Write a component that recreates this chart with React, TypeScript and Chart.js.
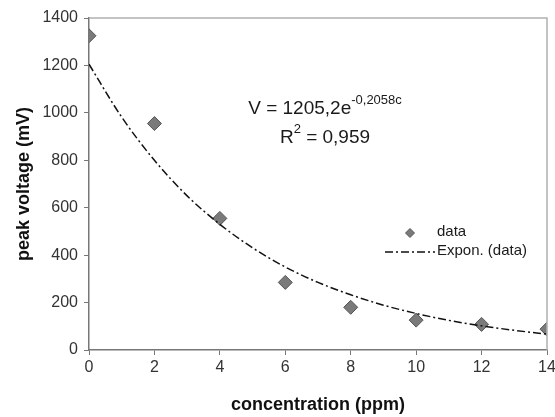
import React, { useEffect, useRef } from "react";
import { Chart, registerables } from "chart.js";

Chart.register(...registerables);

const concentration = [0, 2, 4, 6, 8, 10, 12, 14];
const peakVoltage = [1325, 955, 555, 285, 180, 126, 108, 88];

const trendX = [0, 1, 2, 3, 4, 5, 6, 7, 8, 9, 10, 11, 12, 13, 14];
const trendY = [1205, 982, 800, 650, 530, 431, 350, 285, 233, 189, 154, 125, 102, 83, 67];

const xTicks = [0, 2, 4, 6, 8, 10, 12, 14];
const yTicks = [0, 200, 400, 600, 800, 1000, 1200, 1400];

const equationMain = "V = 1205,2e";
const equationExp = "-0,2058c";
const r2Label = "R";
const r2Exp = "2";
const r2Value = " = 0,959";
const legendData = "data";
const legendFit = "Expon. (data)";

const FONT = "'Liberation Sans', Arial, sans-serif";
const DASH = [8, 3, 2, 3];

const overlayPlugin = {
  id: "overlay",
  afterDraw(chart: any) {
    const ctx = chart.ctx as CanvasRenderingContext2D;
    const { chartArea } = chart;
    ctx.save();
    // top and right frame
    ctx.strokeStyle = "#b0b0b0";
    ctx.lineWidth = 1.5;
    ctx.beginPath();
    ctx.moveTo(chartArea.left, chartArea.top);
    ctx.lineTo(chartArea.right, chartArea.top);
    ctx.lineTo(chartArea.right, chartArea.bottom);
    ctx.stroke();

    // equation
    ctx.fillStyle = "#1a1a1a";
    ctx.textBaseline = "alphabetic";
    ctx.textAlign = "left";
    const bigFont = `19px ${FONT}`;
    const supFont = `13px ${FONT}`;
    ctx.font = bigFont;
    const w1 = ctx.measureText(equationMain).width;
    ctx.font = supFont;
    const w2 = ctx.measureText(equationExp).width;
    const cx = 325;
    let x0 = cx - (w1 + w2) / 2;
    ctx.font = bigFont;
    ctx.fillText(equationMain, x0, 114);
    ctx.font = supFont;
    ctx.fillText(equationExp, x0 + w1, 104);

    ctx.font = bigFont;
    const r1 = ctx.measureText(r2Label).width;
    const r3 = ctx.measureText(r2Value).width;
    ctx.font = supFont;
    const r2 = ctx.measureText(r2Exp).width;
    x0 = cx - (r1 + r2 + r3) / 2;
    ctx.font = bigFont;
    ctx.fillText(r2Label, x0, 143);
    ctx.font = supFont;
    ctx.fillText(r2Exp, x0 + r1, 133);
    ctx.font = bigFont;
    ctx.fillText(r2Value, x0 + r1 + r2, 143);

    // legend
    ctx.fillStyle = "#7a7a7a";
    ctx.strokeStyle = "#555";
    ctx.lineWidth = 1;
    const dx = 410, dy = 233, dr = 4.5;
    ctx.beginPath();
    ctx.moveTo(dx, dy - dr);
    ctx.lineTo(dx + dr, dy);
    ctx.lineTo(dx, dy + dr);
    ctx.lineTo(dx - dr, dy);
    ctx.closePath();
    ctx.fill();
    ctx.stroke();

    ctx.strokeStyle = "#111";
    ctx.lineWidth = 1.5;
    ctx.setLineDash(DASH);
    ctx.beginPath();
    ctx.moveTo(385, 252);
    ctx.lineTo(435, 252);
    ctx.stroke();
    ctx.setLineDash([]);

    ctx.fillStyle = "#1a1a1a";
    ctx.font = `15px ${FONT}`;
    ctx.textBaseline = "middle";
    ctx.fillText(legendData, 437, 232);
    ctx.fillText(legendFit, 437, 251);
    ctx.restore();
  },
};

export default function App() {
  const ref = useRef<HTMLCanvasElement>(null);
  useEffect(() => {
    if (!ref.current) return;
    const chart = new Chart(ref.current, {
      type: "scatter",
      data: {
        datasets: [
          {
            label: legendFit,
            data: trendX.map((x, i) => ({ x, y: trendY[i] })),
            showLine: true,
            borderColor: "#111",
            borderWidth: 1.5,
            borderDash: DASH,
            pointRadius: 0,
            cubicInterpolationMode: "monotone",
            fill: false,
          } as any,
          {
            label: legendData,
            data: concentration.map((x, i) => ({ x, y: peakVoltage[i] })),
            pointStyle: "rectRot",
            pointRadius: 7,
            backgroundColor: "#7a7a7a",
            borderColor: "#555",
            borderWidth: 1,
            showLine: false,
          },
        ],
      },
      options: {
        responsive: false,
        animation: false,
        layout: { padding: { top: 18, right: 7, left: 0, bottom: 0 } },
        plugins: { legend: { display: false }, tooltip: { enabled: false } },
        scales: {
          x: {
            type: "linear",
            min: 0,
            max: 14,
            afterBuildTicks: (s: any) => {
              s.ticks = xTicks.map((v) => ({ value: v }));
            },
            afterFit: (s: any) => {
              s.height = 67;
              s.paddingLeft = 0;
              s.paddingRight = 0;
            },
            ticks: {
              color: "#333",
              font: { size: 16, family: FONT },
              padding: 3,
              maxRotation: 0,
              callback: (v: any) => String(v),
            },
            grid: { drawOnChartArea: false, drawTicks: true, tickLength: 5, color: "#777" },
            border: { color: "#777", width: 1.5 },
            title: {
              display: true,
              text: "concentration (ppm)",
              color: "#111",
              font: { size: 18, weight: "bold", family: FONT },
              padding: { top: 0, bottom: 1 },
            },
          },
          y: {
            type: "linear",
            min: 0,
            max: 1400,
            afterBuildTicks: (s: any) => {
              s.ticks = yTicks.map((v) => ({ value: v }));
            },
            afterFit: (s: any) => {
              s.width = 89;
              s.paddingTop = 0;
              s.paddingBottom = 0;
            },
            ticks: {
              color: "#333",
              font: { size: 16, family: FONT },
              padding: 6,
              callback: (v: any) => String(v),
            },
            grid: { drawOnChartArea: false, drawTicks: true, tickLength: 5, color: "#777" },
            border: { color: "#777", width: 1.5 },
            title: {
              display: true,
              text: "peak voltage (mV)",
              color: "#111",
              font: { size: 18, weight: "bold", family: FONT },
              padding: { top: 13, bottom: 0 },
            },
          },
        },
      },
      plugins: [overlayPlugin],
    });
    return () => chart.destroy();
  }, []);
  return (
    <div style={{ position: "absolute", left: 0, top: 0, width: 555, height: 417, background: "#fff" }}>
      <canvas ref={ref} width={555} height={417} />
    </div>
  );
}
